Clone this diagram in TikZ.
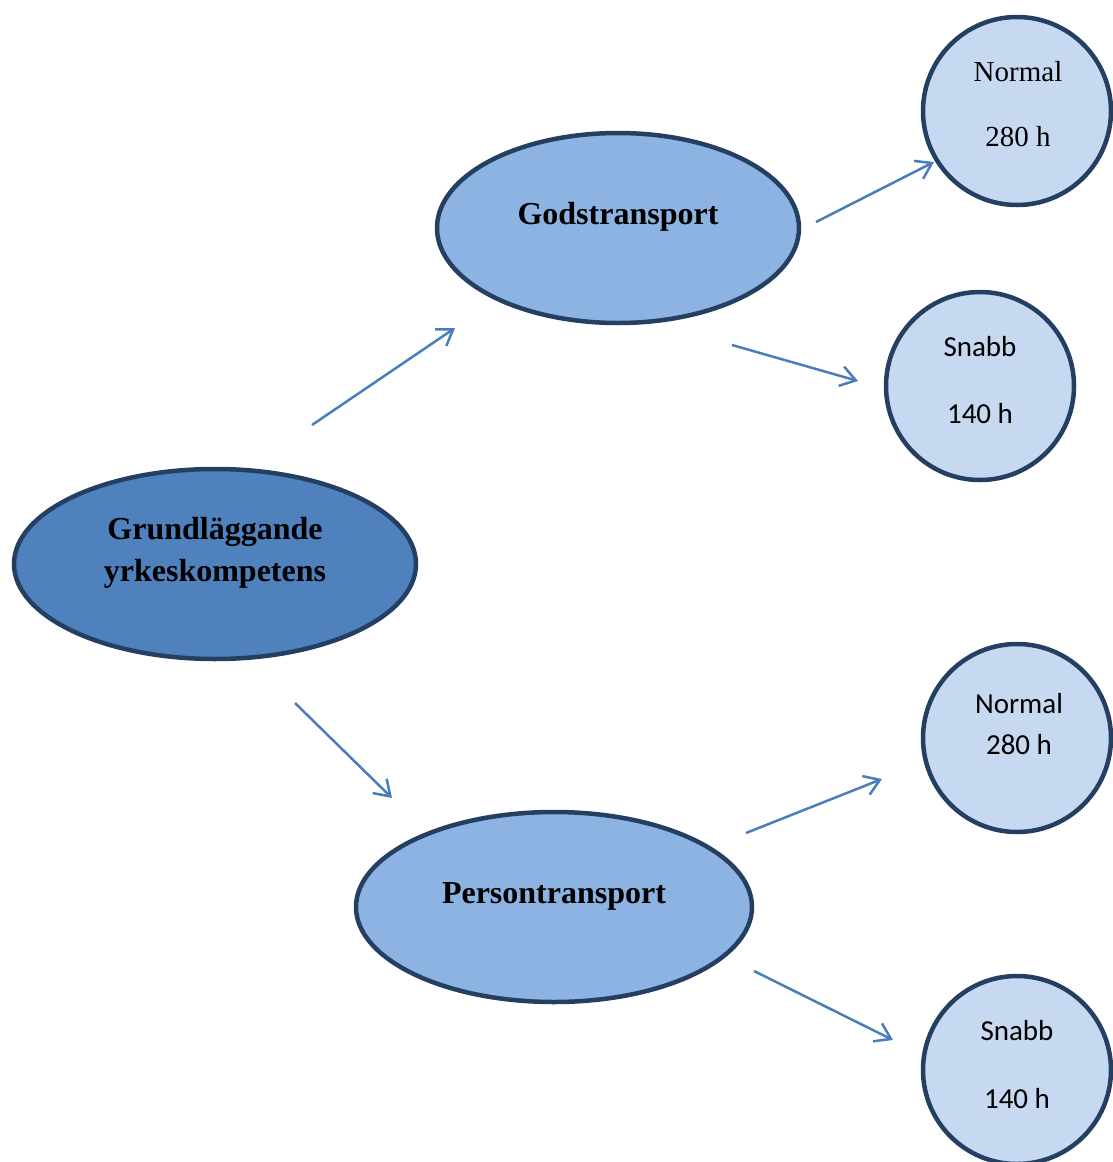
\documentclass[tikz,border=0pt]{standalone}
\usepackage{fontspec}
\setmainfont{Liberation Serif}
\newfontfamily\calib{Carlito}
\usetikzlibrary{shapes.geometric,arrows.meta}
\definecolor{edge}{HTML}{253F62}
\definecolor{mainfill}{HTML}{4F81BD}
\definecolor{midfill}{HTML}{8DB3E2}
\definecolor{leaffill}{HTML}{C6D9F1}
\definecolor{arr}{HTML}{4A7EBB}
\begin{document}
\begin{tikzpicture}[x=1pt,y=-1pt,
  ell/.style={ellipse,draw=edge,line width=4.5pt,inner sep=0pt},
  leaf/.style={circle,draw=edge,line width=4.5pt,fill=leaffill,inner sep=0pt,minimum size=188pt},
  btxt/.style={font=\fontsize{32}{42}\selectfont\bfseries,align=center,inner sep=0pt},
  stxt/.style={align=center,inner sep=0pt},
  conn/.style={draw=arr,line width=2.5pt,-{Straight Barb[length=15pt,width=20pt,line width=2.5pt]}}]
\useasboundingbox (0,0) rectangle (1112,1162);
% ellipses
\node[ell,fill=mainfill,minimum width=402pt,minimum height=190pt] (gy) at (215,564) {};
\node[ell,fill=midfill,minimum width=362pt,minimum height=190pt] (gt) at (618,228) {};
\node[ell,fill=midfill,minimum width=396pt,minimum height=190pt] (pt) at (554,907) {};
\node[btxt] (gyt) at (215,553) {Grundläggande\\yrkeskompetens};
\node[btxt] (gtt) at (618,217) {Godstransport};
\node[btxt] (ptt) at (554,896) {Persontransport};
% circles
\node[leaf] (n1) at (1017,111) {};
\node[leaf] (s1) at (980,386) {};
\node[leaf] (n2) at (1017,738) {};
\node[leaf] (s2) at (1017,1070) {};
\node[stxt,font=\fontsize{29}{65}\selectfont] (n1t) at (1018,104) {Normal\\280 h};
\node[stxt,font=\calib\fontsize{29}{67}\selectfont] (s1t) at (980,380) {Snabb\\140 h};
\node[stxt,font=\calib\fontsize{29}{41}\selectfont] (n2t) at (1019,724) {Normal\\280 h};
\node[stxt,font=\calib\fontsize{29}{68}\selectfont] (s2t) at (1017,1065) {Snabb\\140 h};
% arrow endpoints
\coordinate (a1s) at (312,425); \coordinate (a1e) at (455,328);
\coordinate (a2s) at (295,703); \coordinate (a2e) at (392,798);
\coordinate (a3s) at (816,222); \coordinate (a3e) at (934,162);
\coordinate (a4s) at (732,345); \coordinate (a4e) at (858,381);
\coordinate (a5s) at (746,833); \coordinate (a5e) at (882,779);
\coordinate (a6s) at (754,971); \coordinate (a6e) at (893,1040);
\draw[conn] (a1s) -- (a1e);
\draw[conn] (a2s) -- (a2e);
\draw[conn] (a3s) -- (a3e);
\draw[conn] (a4s) -- (a4e);
\draw[conn] (a5s) -- (a5e);
\draw[conn] (a6s) -- (a6e);
\end{tikzpicture}
\end{document}
